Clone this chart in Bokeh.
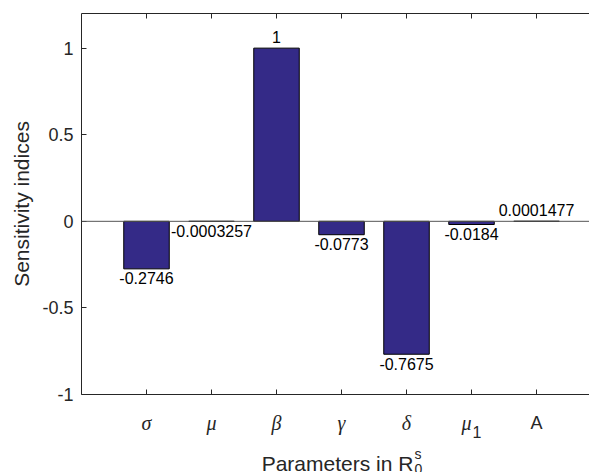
from bokeh.plotting import figure
from bokeh.layouts import column
from bokeh.models import (ColumnDataSource, Range1d, LinearAxis, FixedTicker,
                          Span, LabelSet)
from bokeh.core.properties import value
from bokeh.embed import file_html
from bokeh.resources import INLINE

# ---- data ----
positions = [1, 2, 3, 4, 5, 6, 7]
values = [-0.2746, -0.0003257, 1.0, -0.0773, -0.7675, -0.0184, 0.0001477]
value_text = ["-0.2746", "-0.0003257", "1", "-0.0773", "-0.7675", "-0.0184", "0.0001477"]
greek_labels = ["σ", "μ", "β", "γ", "δ", "μ"]
greek_positions = [1, 2, 3, 4, 5, 6]
subscript_label = "1"
subscript_position = 6
last_label = "A"
last_position = 7
y_ticks = [-1, -0.5, 0, 0.5, 1]
y_tick_text = ["-1", "-0.5", "0", "0.5", "1"]
y_label = "Sensitivity indices"
x_label_main = "Parameters in R"
x_label_sup = "s"
x_label_sub = "0"
x_center = 4

BAR_COLOR = "#342A87"
AXIS_COLOR = "#262626"
SANS = "Liberation Sans"
SERIF = "Liberation Serif"

GAP = 12  # bottom border of the main figure (px)

x_range = Range1d(0, 7.815)

p = figure(frame_width=508, frame_height=381,
           min_border_left=81, min_border_right=0, min_border_top=13, min_border_bottom=GAP,
           x_range=x_range, y_range=Range1d(-1, 1.2),
           output_backend="svg", toolbar_location=None, x_axis_location=None)
p.outline_line_color = None
p.xgrid.visible = False
p.ygrid.visible = False

# bars
src = ColumnDataSource(dict(x=positions, top=values))
p.vbar(x="x", top="top", bottom=0, width=0.7, source=src,
       fill_color=BAR_COLOR, line_color="black", line_width=1)

# baseline
p.add_layout(Span(location=0, dimension="width", line_color="#555555", line_width=1))

# y axis
ya = p.yaxis[0]
ya.ticker = FixedTicker(ticks=y_ticks)
ya.major_label_overrides = {t: s for t, s in zip(y_ticks, y_tick_text)}
ya.major_label_text_font = SANS
ya.major_label_text_font_size = "18px"
ya.major_label_text_color = AXIS_COLOR
ya.major_label_standoff = 8
ya.major_tick_in = 5
ya.major_tick_out = 0
ya.minor_tick_line_color = None
ya.axis_line_color = AXIS_COLOR
ya.major_tick_line_color = AXIS_COLOR
ya.axis_label = y_label
ya.axis_label_text_font = SANS
ya.axis_label_text_font_size = "21px"
ya.axis_label_text_font_style = "normal"
ya.axis_label_text_color = AXIS_COLOR
ya.axis_label_standoff = 6

# bottom & top axes (ticks only)
for loc in ("below", "above"):
    ax = LinearAxis(ticker=FixedTicker(ticks=positions),
                    major_tick_in=5, major_tick_out=0,
                    minor_tick_line_color=None,
                    axis_line_color=AXIS_COLOR, major_tick_line_color=AXIS_COLOR,
                    major_label_text_font_size="0px", major_label_standoff=0,
                    axis_label_standoff=0,
                    major_label_overrides={t: "" for t in positions})
    p.add_layout(ax, loc)

# value labels
pos_idx = [i for i, v in enumerate(values) if v >= 0]
neg_idx = [i for i, v in enumerate(values) if v < 0]
pos_src = ColumnDataSource(dict(x=[positions[i] for i in pos_idx],
                                y=[values[i] for i in pos_idx],
                                t=[value_text[i] for i in pos_idx]))
neg_src = ColumnDataSource(dict(x=[positions[i] for i in neg_idx],
                                y=[values[i] for i in neg_idx],
                                t=[value_text[i] for i in neg_idx]))
p.add_layout(LabelSet(x="x", y="y", text="t", source=pos_src, text_align="center",
                      text_baseline="alphabetic", y_offset=5, text_font=value(SANS),
                      text_font_size="16px", text_color="black"))
p.add_layout(LabelSet(x="x", y="y", text="t", source=neg_src, text_align="center",
                      text_baseline="alphabetic", y_offset=-15.5, text_font=value(SANS),
                      text_font_size="16px", text_color="black"))

# ---- strip below the axes for tick labels and x-axis label ----
# its y units are pixels below the bottom axis line
q = figure(frame_width=508, frame_height=78 - GAP,
           min_border_left=81, min_border_right=0, min_border_top=0, min_border_bottom=0,
           x_range=x_range, y_range=Range1d(-78, -GAP),
           output_backend="svg", toolbar_location=None,
           x_axis_location=None, y_axis_location=None)
q.outline_line_color = None
q.xgrid.visible = False
q.ygrid.visible = False

g_src = ColumnDataSource(dict(x=greek_positions, y=[-28] * len(greek_positions),
                              t=greek_labels, dx=[0, 0, 0, 0, 0, -5]))
q.text(x="x", y="y", text="t", source=g_src, x_offset="dx",
       text_align="center", text_baseline="alphabetic",
       text_font=value(SERIF), text_font_style="italic",
       text_font_size="20px", text_color=AXIS_COLOR)
q.text(x=[subscript_position], y=[-37], text=[subscript_label], x_offset=1,
       text_align="left", text_baseline="alphabetic",
       text_font=value(SANS), text_font_size="16px", text_color=AXIS_COLOR)
q.text(x=[last_position], y=[-28], text=[last_label],
       text_align="center", text_baseline="alphabetic",
       text_font=value(SANS), text_font_size="18px", text_color=AXIS_COLOR)

q.text(x=[x_center], y=[-69], text=[x_label_main], x_offset=-4,
       text_align="center", text_baseline="alphabetic",
       text_font=value(SANS), text_font_size="21px", text_color=AXIS_COLOR)
q.text(x=[x_center], y=[-59], text=[x_label_sup], x_offset=73,
       text_align="left", text_baseline="alphabetic",
       text_font=value(SANS), text_font_size="14px", text_color=AXIS_COLOR)
q.text(x=[x_center], y=[-74], text=[x_label_sub], x_offset=73,
       text_align="left", text_baseline="alphabetic",
       text_font=value(SANS), text_font_size="14px", text_color=AXIS_COLOR)

layout = column(p, q, spacing=0)
open("out.html", "w").write(file_html(layout, INLINE))
